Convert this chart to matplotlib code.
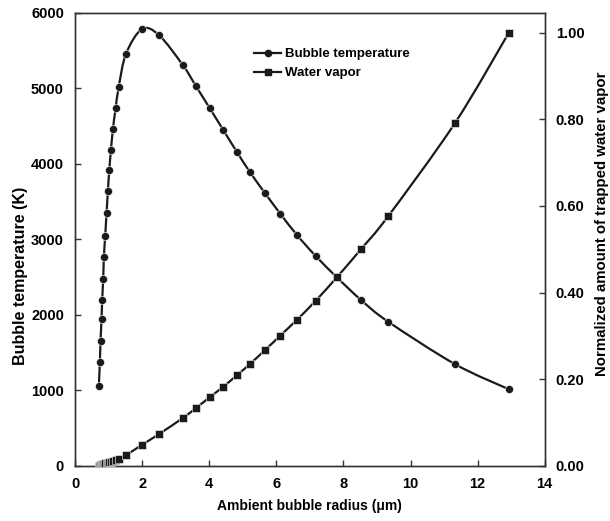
import numpy as np
import matplotlib
matplotlib.use("Agg")
import matplotlib.pyplot as plt
from matplotlib.path import Path
from matplotlib.patches import PathPatch
from matplotlib.lines import Line2D

plt.rcParams['font.family'] = ['Liberation Sans', 'DejaVu Sans']
plt.rcParams['font.weight'] = 'bold'
plt.rcParams['axes.labelweight'] = 'bold'

# ambient bubble radius (um)
radius = [0.71, 0.74, 0.76, 0.79, 0.81, 0.84, 0.86, 0.90, 0.94, 0.98, 1.02, 1.07,
          1.13, 1.21, 1.30, 1.52, 2.00, 2.51, 3.22, 3.61, 4.02, 4.42, 4.82, 5.21,
          5.67, 6.12, 6.61, 7.17, 7.81, 8.52, 9.33, 11.33, 12.93]
# bubble temperature (K)
temperature = [1064, 1374, 1656, 1943, 2203, 2481, 2768, 3050, 3355, 3638, 3916, 4181,
               4464, 4733, 5011, 5457, 5784, 5700, 5302, 5024, 4733, 4446, 4160, 3892,
               3607, 3338, 3060, 2781, 2495, 2199, 1911, 1347, 1016]
# normalized amount of trapped water vapor
vapor = [0.001, 0.002, 0.002, 0.003, 0.004, 0.004, 0.005, 0.006, 0.007, 0.008, 0.009, 0.010,
         0.012, 0.014, 0.016, 0.025, 0.049, 0.074, 0.111, 0.134, 0.159, 0.183, 0.209, 0.235,
         0.268, 0.301, 0.337, 0.381, 0.436, 0.500, 0.576, 0.792, 1.000]


def smooth_path(x, y):
    # Catmull-Rom style smoothing drawn as cubic Bezier segments
    p = np.column_stack([x, y]).astype(float)
    n = len(p)
    verts = [p[0]]
    codes = [Path.MOVETO]
    for i in range(n - 1):
        p0 = p[i - 1] if i > 0 else p[i]
        p3 = p[i + 2] if i + 2 < n else p[i + 1]
        c1 = p[i] + (p[i + 1] - p0) / 6.0
        c2 = p[i + 1] - (p3 - p[i]) / 6.0
        verts += [c1, c2, p[i + 1]]
        codes += [Path.CURVE4] * 3
    return Path(verts, codes)


fig = plt.figure(figsize=(6.10, 5.21), dpi=100)
ax = fig.add_axes([0.123, 0.1056, 0.770, 0.870])
ax2 = ax.twinx()

col = '#1a1a1a'
ax.add_patch(PathPatch(smooth_path(radius, temperature), fill=False, lw=1.6, ec=col))
ax.plot(radius, temperature, 'o', color=col, ms=5.8, mec='white', mew=0.4, zorder=3)
ax2.add_patch(PathPatch(smooth_path(radius, vapor), fill=False, lw=1.6, ec=col))
ax2.plot(radius, vapor, 's', color=col, ms=5.6, mec='white', mew=0.4, zorder=3)

ax.set_xlim(0, 14)
ax.set_ylim(0, 6000)
ax2.set_ylim(0, 1.046)
ax.set_xticks(range(0, 15, 2))
ax.set_yticks(range(0, 6001, 1000))
ax2.set_yticks([0, 0.2, 0.4, 0.6, 0.8, 1.0])
ax2.set_yticklabels(['0.00', '0.20', '0.40', '0.60', '0.80', '1.00'])

for a in (ax, ax2):
    a.tick_params(direction='in', length=4, width=1, labelsize=10.5, pad=8, color='#333333')
    for s in a.spines.values():
        s.set_color('#333333')
        s.set_linewidth(1.0)

ax.set_xlabel('Ambient bubble radius (\u03bcm)', fontsize=10)
ax.xaxis.set_label_coords(0.5, -0.072)
ax.set_ylabel('Bubble temperature (K)', fontsize=11.5)
ax.yaxis.set_label_coords(-0.100, 0.42)
ax2.set_ylabel('Normalized amount of trapped water vapor', fontsize=10.8)
ax2.yaxis.set_label_coords(1.107, 0.535)

handles = [Line2D([], [], color=col, lw=1.6, marker='o', ms=4.5),
           Line2D([], [], color=col, lw=1.6, marker='s', ms=4.5)]
ax.legend(handles, ['Bubble temperature', 'Water vapor'], loc='upper left',
          bbox_to_anchor=(0.355, 0.948), frameon=False, fontsize=9.5,
          handlelength=2.1, handletextpad=0.3, labelspacing=0.5)

fig.savefig('out.png', dpi=100)
